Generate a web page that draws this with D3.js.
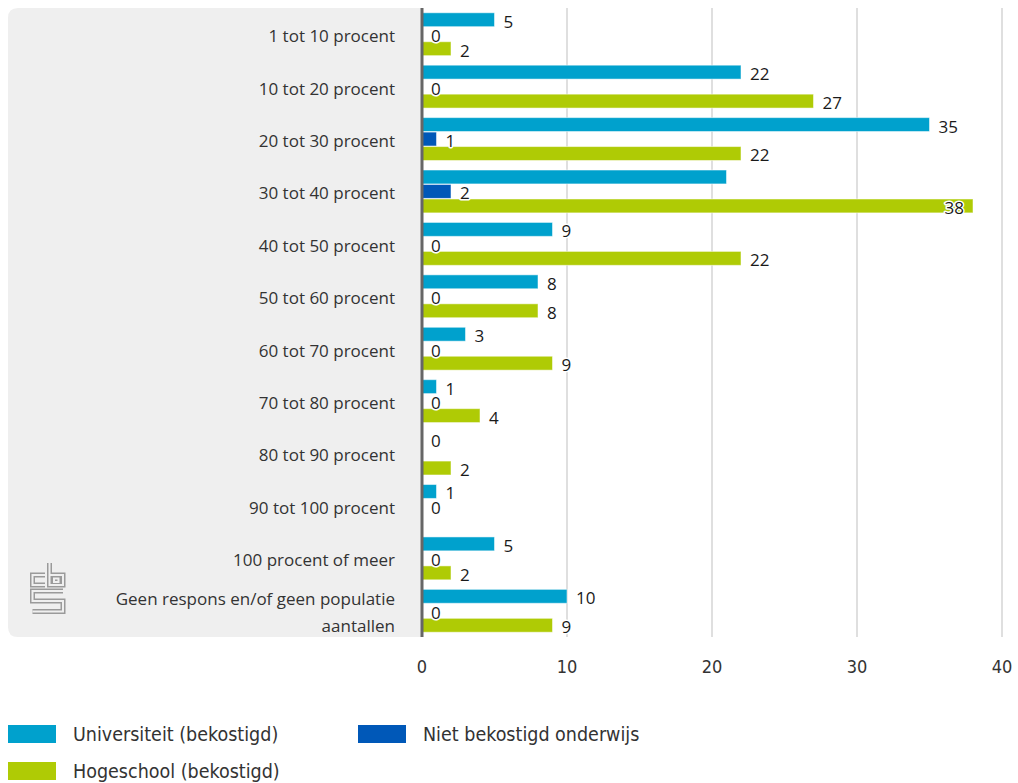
<!DOCTYPE html>
<html>
<head>
<meta charset="utf-8">
<script src="https://cdn.jsdelivr.net/npm/d3@7/dist/d3.min.js"></script>
<style>
  body { margin: 0; background: #fff; }
  .cat { font-family: 'Open Sans', sans-serif; font-size: 17px; fill: #333; }
  .val { font-family: 'Open Sans', sans-serif; font-size: 17px; fill: #1a1a1a;
         stroke: #fff; stroke-width: 3px; paint-order: stroke; stroke-linejoin: round; }
  .tick-lbl { font-family: 'Liberation Sans Narrow', 'DejaVu Sans Condensed', sans-serif; font-size: 18px; fill: #333; }
  .leg { font-family: 'Liberation Sans Narrow', 'DejaVu Sans Condensed', sans-serif; font-size: 19.5px; fill: #333; }
</style>
</head>
<body>
<div id="chart"></div>
<script>
// categories and values
var categories = ["1 tot 10 procent", "10 tot 20 procent", "20 tot 30 procent", "30 tot 40 procent",
  "40 tot 50 procent", "50 tot 60 procent", "60 tot 70 procent", "70 tot 80 procent",
  "80 tot 90 procent", "90 tot 100 procent", "100 procent of meer",
  "Geen respons en/of geen populatie aantallen"];
var seriesNames = ["Universiteit (bekostigd)", "Niet bekostigd onderwijs", "Hogeschool (bekostigd)"];
var universiteit  = [5, 22, 35, 21, 9, 8, 3, 1, 0, 1, 5, 10];
var nietBekostigd = [0, 0, 1, 2, 0, 0, 0, 0, null, 0, 0, 0];
var hogeschool    = [2, 27, 22, 38, 22, 8, 9, 4, 2, null, 2, 9];
var xTicks = [0, 10, 20, 30, 40];
// labels that are not shown in the original
var hiddenLabels = [["Universiteit (bekostigd)", "30 tot 40 procent"]];

var colors = { "Universiteit (bekostigd)": "#00a1cd", "Niet bekostigd onderwijs": "#0058b8", "Hogeschool (bekostigd)": "#afcb05" };
var seriesValues = [universiteit, nietBekostigd, hogeschool];

var W = 1018, H = 783;
var svg = d3.select("#chart").append("svg").attr("width", W).attr("height", H);

var plotTop = 8, plotBottom = 637;
var x = d3.scaleLinear().domain([0, 40]).range([422, 1002]);
var y = d3.scaleBand().domain(categories).range([plotTop, plotBottom]).paddingInner(0.16).paddingOuter(0.08);
var ys = d3.scaleBand().domain(seriesNames).range([0, y.bandwidth()]).padding(0.04);

// grey panel behind the category labels
svg.append("path")
  .attr("d", "M422," + plotTop + " H18 Q8," + plotTop + " 8," + (plotTop + 10) + " V" + (plotBottom - 10) +
        " Q8," + plotBottom + " 18," + plotBottom + " H422 Z")
  .attr("fill", "#efefef");

// cbs logo
var logo = svg.append("g").attr("transform", "translate(30,563)");
var logoPaths = ["M15,12 H2.5 V22 H15", "M19.5,0 V22 H33 V12 H19.5", "M24,15.5 H28.5 V19 H24 Z",
                 "M33,28 H2.5 V38 H33 V48.5 H2.5"];
logoPaths.forEach(function (p) {
  logo.append("path").attr("d", p).attr("fill", "none").attr("stroke", "#9a9a9a").attr("stroke-width", 5);
});
logoPaths.forEach(function (p) {
  logo.append("path").attr("d", p).attr("fill", "none").attr("stroke", "#efefef").attr("stroke-width", 2);
});

// grid lines
svg.selectAll(".grid").data(xTicks.slice(1)).enter().append("line")
  .attr("x1", function (d) { return x(d); }).attr("x2", function (d) { return x(d); })
  .attr("y1", plotTop).attr("y2", plotBottom)
  .attr("stroke", "#d4d4d4").attr("stroke-width", 1.5);

// tick labels
svg.selectAll(".tick-lbl").data(xTicks).enter().append("text")
  .attr("class", "tick-lbl")
  .attr("x", function (d) { return x(d); }).attr("y", 667).attr("dy", "0.35em")
  .attr("text-anchor", "middle")
  .text(function (d) { return d; });

// category labels, wrapped
svg.selectAll(".cat").data(categories).enter().append("text")
  .attr("class", "cat")
  .attr("text-anchor", "end")
  .each(function (d) {
    var t = d3.select(this), words = d.split(" "), lines = [], line = [];
    words.forEach(function (w) {
      line.push(w);
      t.text(line.join(" "));
      if (this.getComputedTextLength() > 340 && line.length > 1) {
        line.pop(); lines.push(line.join(" ")); line = [w];
      }
    }, this);
    lines.push(line.join(" "));
    t.text(null);
    var cy = y(d) + y.bandwidth() / 2 + 2 - (lines.length - 1) * 13.5;
    lines.forEach(function (l, i) {
      t.append("tspan").attr("x", 395).attr("y", cy + i * 27).attr("dy", "0.35em").text(l);
    });
  });

// bars
var rows = [];
categories.forEach(function (c, i) {
  seriesNames.forEach(function (s, j) {
    rows.push({ cat: c, series: s, value: seriesValues[j][i] });
  });
});
var shown = rows.filter(function (d) { return d.value !== null; });

svg.selectAll(".bar").data(shown.filter(function (d) { return d.value > 0; })).enter().append("rect")
  .attr("x", x(0))
  .attr("y", function (d) { return y(d.cat) + ys(d.series); })
  .attr("width", function (d) { return x(d.value) - x(0); })
  .attr("height", ys.bandwidth())
  .attr("fill", function (d) { return colors[d.series]; })
  .attr("stroke", "#fff").attr("stroke-opacity", 0.5).attr("stroke-width", 1);

// axis line
svg.append("line").attr("x1", x(0)).attr("x2", x(0)).attr("y1", plotTop).attr("y2", plotBottom)
  .attr("stroke", "#666").attr("stroke-width", 3);

// value labels (put inside the bar when there is no room at the right)
var labelled = shown.filter(function (d) {
  return !hiddenLabels.some(function (h) { return h[0] === d.series && h[1] === d.cat; });
});
svg.selectAll(".val").data(labelled).enter().append("text")
  .attr("class", "val")
  .attr("y", function (d) { return y(d.cat) + ys(d.series) + ys.bandwidth() / 2 + 2; })
  .attr("dy", "0.35em")
  .text(function (d) { return d.value; })
  .each(function (d) {
    var t = d3.select(this), w = this.getComputedTextLength();
    if (x(d.value) + 9 + w > x(40) - 12) {
      t.attr("x", x(d.value) - 9).attr("text-anchor", "end");
    } else {
      t.attr("x", x(d.value) + 9);
    }
  });

// legend
var legendPos = [[8, 725], [358, 725], [8, 762]];
var legendOrder = ["Universiteit (bekostigd)", "Niet bekostigd onderwijs", "Hogeschool (bekostigd)"];
var leg = svg.selectAll(".legitem").data(legendOrder).enter().append("g")
  .attr("transform", function (d, i) { return "translate(" + legendPos[i][0] + "," + legendPos[i][1] + ")"; });
leg.append("rect").attr("width", 48).attr("height", 18).attr("fill", function (d) { return colors[d]; });
leg.append("text").attr("class", "leg").attr("x", 65).attr("y", 9).attr("dy", "0.35em")
  .text(function (d) { return d; });
</script>
</body>
</html>
